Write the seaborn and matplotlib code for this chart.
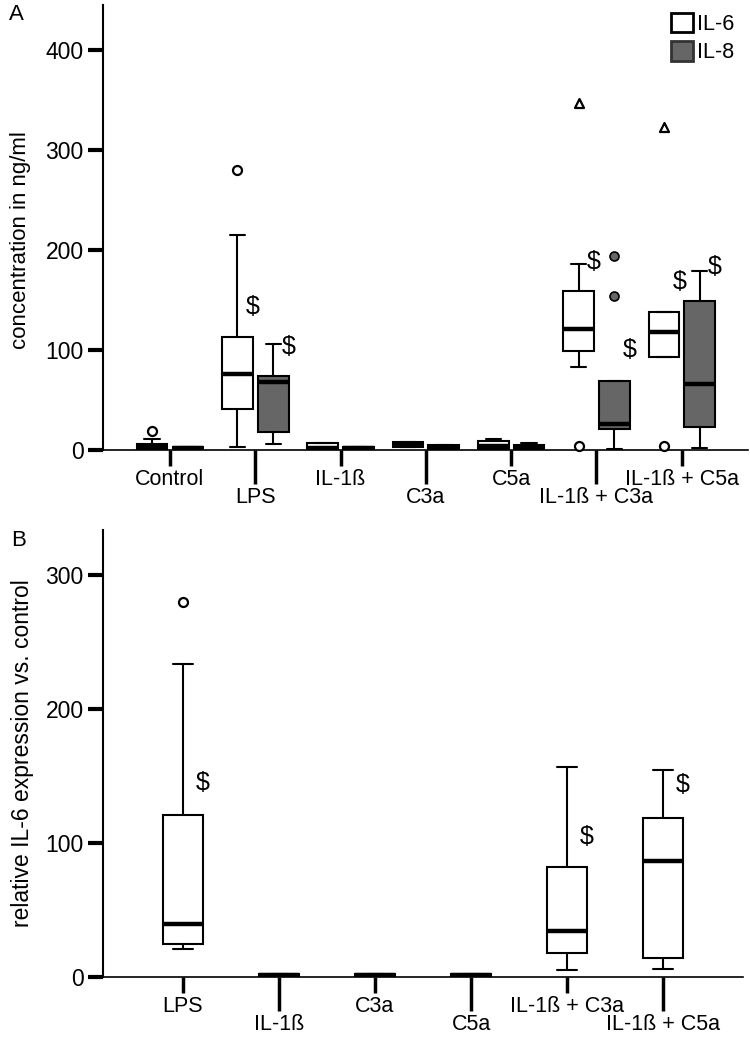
import matplotlib
matplotlib.use("Agg")
import matplotlib.pyplot as plt
from matplotlib.patches import Patch
import seaborn as sns

# ---- Panel A: cytokine concentration (ng/ml), five-number summaries
cats_a = ["Control", "LPS", "IL-1ß", "C3a", "C5a", "IL-1ß + C3a", "IL-1ß + C5a"]

il6_lo = [0, 3, 0, 3, 0, 83, 93]
il6_q1 = [1, 41, 0.5, 3, 1.5, 99, 93]
il6_med = [3, 76, 2, 5, 4.5, 121, 118]
il6_q3 = [6, 113, 7, 8, 9, 159, 138]
il6_hi = [11, 215, 7, 8, 11, 186, 138]

il8_lo = [0, 6, 0, 0, 0, 1, 2]
il8_q1 = [0.5, 18, 0.5, 0.5, 0.5, 21, 23]
il8_med = [2, 68, 2, 2.5, 2.5, 26, 66]
il8_q3 = [3.5, 74, 3.5, 5, 5, 69, 149]
il8_hi = [3.5, 106, 3.5, 5, 7, 69, 179]

# outliers (category index, value): circles, extremes (triangles), IL-8 circles
il6_out_cat = [0, 1, 5, 6]
il6_out_val = [19.5, 280, 4, 4]
il6_ext_cat = [5, 6]
il6_ext_val = [347, 323]
il8_out_cat = [5, 5]
il8_out_val = [154, 194]

# significance marks ($): category index, series (0 = IL-6, 1 = IL-8), height
sig_a_cat = [1, 1, 5, 5, 6, 6]
sig_a_ser = [0, 1, 0, 1, 0, 1]
sig_a_val = [143, 103, 188, 100, 168, 183]

# ---- Panel B: relative IL-6 expression vs. control
cats_b = ["LPS", "IL-1ß", "C3a", "C5a", "IL-1ß + C3a", "IL-1ß + C5a"]
rel_lo = [21, 0.8, 1, 0.8, 5, 6]
rel_q1 = [24.5, 0.8, 1, 0.8, 18, 14]
rel_med = [39.5, 1.5, 1.8, 1.5, 34, 86.5]
rel_q3 = [121, 2.2, 2.5, 2.2, 82, 118.5]
rel_hi = [233.5, 2.2, 2.5, 2.2, 157, 154.5]
rel_out_cat = [0]
rel_out_val = [280]
sig_b_cat = [0, 4, 5]
sig_b_val = [145, 104.5, 143]

IL8_GREY = "#666666"


def five_num(lo, q1, med, q3, hi):
    return [dict(whislo=a, q1=b, med=c, q3=d, whishi=e, fliers=[])
            for a, b, c, d, e in zip(lo, q1, med, q3, hi)]


def draw_boxes(ax, stats, pos, width, fill):
    ax.bxp(stats, positions=pos, widths=width, patch_artist=True, showfliers=False,
           boxprops=dict(facecolor=fill, edgecolor="black", linewidth=1.5),
           medianprops=dict(color="black", linewidth=3.2, solid_capstyle="butt"),
           whiskerprops=dict(color="black", linewidth=1.5),
           capprops=dict(color="black", linewidth=1.5),
           manage_ticks=False)


def style_axis(ax, cats, ymax, yticks):
    for side in ["top", "right"]:
        ax.spines[side].set_visible(False)
    ax.spines["left"].set_linewidth(1.5)
    ax.spines["bottom"].set_linewidth(1.2)
    ax.set_ylim(0, ymax)
    ax.set_yticks(yticks)
    ax.tick_params(axis="y", length=11, width=3, pad=3, labelsize=16.5)
    idx = list(range(len(cats)))
    ax.set_xticks(idx[0::2], [cats[i] for i in idx[0::2]])
    ax.set_xticks(idx[1::2], [cats[i] for i in idx[1::2]], minor=True)
    ax.tick_params(axis="x", which="major", length=11.5, width=2.5, pad=2, labelsize=15.5)
    ax.tick_params(axis="x", which="minor", length=24.5, width=2.5, pad=2, labelsize=15.5)


sns.set_style("ticks")
plt.rcParams["font.family"] = ["Liberation Sans", "DejaVu Sans"]
plt.rcParams.update({"text.color": "black", "axes.labelcolor": "black",
                     "axes.edgecolor": "black", "xtick.color": "black",
                     "ytick.color": "black"})

fig = plt.figure(figsize=(7.5, 10.5), dpi=100)
W, H = 750.0, 1050.0
ax_a = fig.add_axes([103 / W, 1 - 450 / H, (748 - 103) / W, 445 / H])
ax_b = fig.add_axes([103 / W, 1 - 977 / H, (743 - 103) / W, 447 / H])

# ---- panel A
off, wid = 0.21, 0.36
xa = list(range(len(cats_a)))
draw_boxes(ax_a, five_num(il6_lo, il6_q1, il6_med, il6_q3, il6_hi),
           [x - off for x in xa], wid, "white")
draw_boxes(ax_a, five_num(il8_lo, il8_q1, il8_med, il8_q3, il8_hi),
           [x + off for x in xa], wid, IL8_GREY)

sns.scatterplot(x=[c - off for c in il6_out_cat], y=il6_out_val, ax=ax_a, marker="o", s=42,
                color="white", edgecolor="black", linewidth=1.6, zorder=5, clip_on=False, legend=False)
sns.scatterplot(x=[c - off for c in il6_ext_cat], y=il6_ext_val, ax=ax_a, marker="^", s=42,
                color="white", edgecolor="black", linewidth=1.6, zorder=5, clip_on=False, legend=False)
sns.scatterplot(x=[c + off for c in il8_out_cat], y=il8_out_val, ax=ax_a, marker="o", s=42,
                color=IL8_GREY, edgecolor="black", linewidth=1.2, zorder=5, clip_on=False, legend=False)

for c, s, v in zip(sig_a_cat, sig_a_ser, sig_a_val):
    x = c - off + 0.18 if s == 0 else c + off + 0.18
    ax_a.text(x, v, "$", ha="center", va="center", fontsize=18)

style_axis(ax_a, cats_a, 445, [0, 100, 200, 300, 400])
ax_a.set_xlim(-0.785, 6.776)
ax_a.set_ylabel("concentration in ng/ml", fontsize=16)
ax_a.yaxis.set_label_coords(-0.112, 0.472)

ax_a.legend(handles=[Patch(facecolor="white", edgecolor="black", linewidth=2, label="IL-6"),
                     Patch(facecolor=IL8_GREY, edgecolor="#333333", linewidth=2, label="IL-8")],
            loc="upper left", bbox_to_anchor=(671 / W, 1 - 13 / H), bbox_transform=fig.transFigure,
            frameon=False, fontsize=15.5, handlelength=1.0, handleheight=1.0,
            handletextpad=0.2, labelspacing=0.3, borderpad=0, borderaxespad=0)

# ---- panel B
xb = list(range(len(cats_b)))
draw_boxes(ax_b, five_num(rel_lo, rel_q1, rel_med, rel_q3, rel_hi), xb, 0.41, "white")
sns.scatterplot(x=rel_out_cat, y=rel_out_val, ax=ax_b, marker="o", s=42,
                color="white", edgecolor="black", linewidth=1.6, zorder=5, clip_on=False, legend=False)
for c, v in zip(sig_b_cat, sig_b_val):
    ax_b.text(c + 0.21, v, "$", ha="center", va="center", fontsize=18)

style_axis(ax_b, cats_b, 333.6, [0, 100, 200, 300])
ax_b.set_xlim(-0.833, 5.833)
ax_b.set_ylabel("relative IL-6 expression vs. control", fontsize=16.5)
ax_b.yaxis.set_label_coords(-0.108, 0.5)

fig.text(16 / W, 1 - 15 / H, "A", ha="center", va="center", fontsize=16)
fig.text(19 / W, 1 - 541 / H, "B", ha="center", va="center", fontsize=16)

fig.savefig("out.png", dpi=100)
